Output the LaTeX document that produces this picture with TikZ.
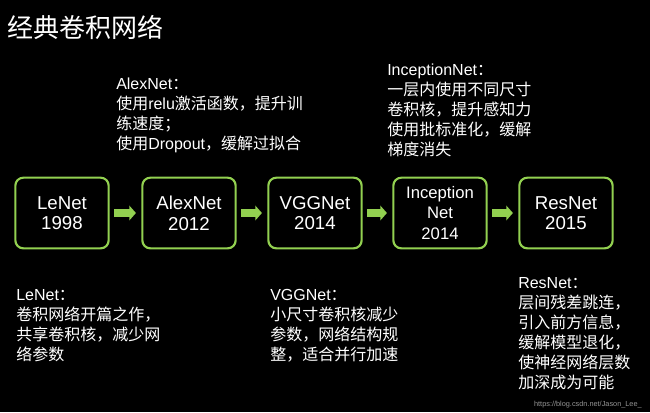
\documentclass[tikz,border=0pt]{standalone}
\usepackage{fontspec}
\setmainfont{Noto Sans CJK SC}
\newfontfamily\arial{Liberation Sans}
\usetikzlibrary{arrows.meta}
\definecolor{lvse}{RGB}{146,208,80}
\definecolor{huise}{RGB}{150,150,150}

\begin{document}
\begin{tikzpicture}[x=0.75pt,y=-0.75pt,
    wangluo/.style={draw=lvse,line width=1.6pt,rounded corners=6pt,fill=black,
        minimum width=70pt,minimum height=53pt,inner sep=0pt,align=center,
        text=white,font=\arial\fontsize{14}{15.5}\selectfont},
    shuoming/.style={anchor=north west,align=left,inner sep=0pt,text=white,
        font=\fontsize{12}{15}\selectfont},
    jiantou/.style={draw=lvse,line width=6pt,-{Triangle[length=5pt,width=11pt]},
        shorten <=3.4pt,shorten >=4pt}]

    % 绘制背景
    \fill[black] (0,0) rectangle (650,412);
    \useasboundingbox (0,0) rectangle (650,412);

    % 绘制标题
    \node[anchor=west,inner sep=0pt,text=white,font=\fontsize{19.5}{20}\selectfont] (biaoti) at (7,27) {经典卷积网络};

    % 绘制各个网络
    \node[wangluo] (lenet) at (62,213) {LeNet\\1998};
    \node[wangluo] (alexnet) at (189,213) {AlexNet\\2012};
    \node[wangluo] (vggnet) at (315,213) {VGGNet\\2014};
    \node[wangluo,font=\arial\fontsize{12.5}{15.5}\selectfont] (inception) at (440,213) {Inception\\Net\\2014};
    \node[wangluo] (resnet) at (566,213) {ResNet\\2015};

    % 绘制箭头
    \draw[jiantou] (lenet) -- (alexnet);
    \draw[jiantou] (alexnet) -- (vggnet);
    \draw[jiantou] (vggnet) -- (inception);
    \draw[jiantou] (inception) -- (resnet);

    % 绘制说明文字
    \node[shuoming] (alexnet-txt) at (116,78) {{\arial AlexNet}：\\使用{\arial relu}激活函数，提升训\\练速度；\\使用{\arial Dropout}，缓解过拟合};
    \node[shuoming] (inception-txt) at (387,64) {{\arial InceptionNet}：\\一层内使用不同尺寸\\卷积核，提升感知力\\使用批标准化，缓解\\梯度消失};
    \node[shuoming] (lenet-txt) at (16,289) {{\arial LeNet}：\\卷积网络开篇之作，\\共享卷积核，减少网\\络参数};
    \node[shuoming] (vggnet-txt) at (270,289) {{\arial VGGNet}：\\小尺寸卷积核减少\\参数，网络结构规\\整，适合并行加速};
    \node[shuoming] (resnet-txt) at (518,277) {{\arial ResNet}：\\层间残差跳连，\\引入前方信息，\\缓解模型退化，\\使神经网络层数\\加深成为可能};

    % 水印
    \node[anchor=east,inner sep=0pt,text=huise,font=\arial\fontsize{5.5}{6}\selectfont] (shuiyin) at (642,405) {https://blog.csdn.net/Jason\_Lee\_};

\end{tikzpicture}
\end{document}
